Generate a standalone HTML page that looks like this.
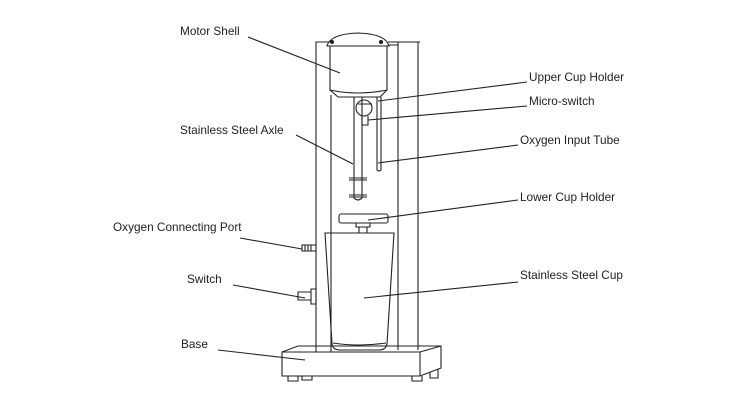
<!DOCTYPE html>
<html><head><style>
body{margin:0;background:#fff;width:750px;height:400px;overflow:hidden}
text{font-family:"Liberation Sans",sans-serif;font-size:11.8px;fill:#222}
</style></head><body>
<svg width="750" height="400" viewBox="0 0 750 400" fill="none" stroke="#222" stroke-width="1.1">
<!-- column -->
<path d="M316 352V42H330M331 352V95M398 350V42M418 350V42M388 42H420M388 45H398"/>
<!-- motor -->
<path d="M327 46Q330 34 358 33Q386 34 389 46Z" fill="#fff"/>
<path d="M330 46V90Q358 96 387 90V46"/>
<path d="M330 90L338 97H380L387 90"/>
<circle cx="332" cy="42" r="1.5" fill="#222"/><circle cx="381" cy="42" r="1.5" fill="#222"/>
<!-- axle -->
<path d="M354 97V198Q358 202 362 198V97"/>
<path d="M349 178H367M349 180H367M349 195H367M349 197H367"/>
<!-- micro-switch -->
<circle cx="364" cy="108" r="8"/>
<path d="M358 104H372M362 116V125H368V116"/>
<!-- oxygen tube -->
<path d="M377 97V170Q379 172 381 170V97"/>
<!-- lower cup holder -->
<rect x="339" y="214" width="49" height="9" rx="2"/>
<path d="M356 223H370V227H356ZM359 227V233H367V227"/>
<!-- cup -->
<path d="M325 233H394L387 344Q386 350 379 350H340Q333 350 332 344Z"/>
<path d="M333 343Q358 347 386 343"/>
<!-- port & switch -->
<path d="M302 245H316V251H302ZM305 245V251M308 245V251M311 245V251"/>
<path d="M298 292H311V300H298Z M311 289H316V304H311Z"/>
<!-- base -->
<path d="M282 352L298 346H441V368L420 376H282Z"/>
<path d="M282 352H420V376M420 352L441 346"/>
<path d="M288 376V381H298V376M302 376V380H312V376M412 376V381H422V376M430 372V378H438V369"/>
<!-- leaders -->
<path d="M248 37L340 73M527 82L378 101M527 106L368 120M518 145L378 163M296 135L353 164M518 200L368 220M240 238L302 249M233 285L305 298M518 282L364 298M218 350L305 360"/>
<text x="180" y="35" stroke="none">Motor Shell</text>
<text x="529" y="81" stroke="none">Upper Cup Holder</text>
<text x="529" y="105" stroke="none">Micro-switch</text>
<text x="520" y="144" stroke="none">Oxygen Input Tube</text>
<text x="180" y="134" stroke="none">Stainless Steel Axle</text>
<text x="520" y="201" stroke="none">Lower Cup Holder</text>
<text x="113" y="231" stroke="none">Oxygen Connecting Port</text>
<text x="187" y="283" stroke="none">Switch</text>
<text x="520" y="279" stroke="none">Stainless Steel Cup</text>
<text x="181" y="348" stroke="none">Base</text>
</svg>
</body></html>
